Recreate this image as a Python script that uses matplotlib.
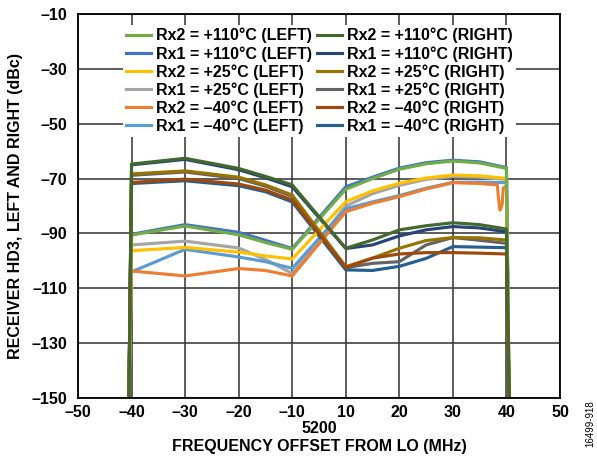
import numpy as np
import matplotlib
matplotlib.use('Agg')
import matplotlib.pyplot as plt

plt.rcParams['font.family'] = ['Liberation Sans', 'DejaVu Sans']
plt.rcParams['font.weight'] = 'bold'
plt.rcParams['axes.labelweight'] = 'bold'
plt.rcParams['font.size'] = 11.5

# frequency offset from LO (MHz) -- common points of the curves
offset = [-40.5, -40, -30, -20, -15, -10, 10, 15, 20, 25, 30, 35, 40, 40.5]

# LEFT sideband curves (dBc)
rx2_110_left = [-150, -90.6, -87.3, -90.5, -93.3, -95.8, -73.9, -70.0, -66.6, -64.6, -63.6, -64.3, -66.3, -150]
rx1_110_left = [-150, -90.3, -86.8, -89.6, -92.5, -95.5, -73.0, -69.5, -66.2, -64.2, -63.3, -63.9, -66.0, -150]
rx2_25_left = [-150, -96.3, -95.1, -96.8, -98.2, -99.3, -78.4, -74.5, -71.7, -69.8, -68.7, -69.0, -69.9, -150]
rx1_25_left = [-150, -94.2, -92.8, -95.3, -99.5, -104.6, -80.0, -75.5, -72.5, -70.3, -69.2, -69.5, -70.3, -150]
rx1_m40_left = [-150, -104.0, -95.8, -98.6, -100.3, -102.7, -81.0, -78.5, -76.2, -73.5, -71.4, -71.3, -71.5, -150]
# Rx2 -40C LEFT has a small loop near +40 MHz, so it has its own offsets
offset_rx2_m40_left = [-40.5, -40, -30, -20, -15, -10, 10, 15, 20, 25, 30, 35, 38.3,
                       38.5, 38.8, 39.2, 39.4, 40, 40.5]
rx2_m40_left = [-150, -103.7, -105.5, -102.8, -103.5, -105.5, -82.1, -79.0, -76.6, -73.8, -71.5, -71.8, -72.3,
                -77.0, -81.5, -79.5, -73.5, -72.5, -150]

# RIGHT sideband curves (dBc)
rx2_110_right = [-150, -64.7, -62.6, -66.3, -69.2, -72.3, -95.4, -92.4, -88.7, -87.2, -86.1, -86.8, -88.4, -150]
rx1_110_right = [-150, -65.0, -63.0, -66.8, -69.7, -73.0, -95.5, -94.2, -90.9, -88.7, -87.5, -88.0, -89.4, -150]
rx2_25_right = [-150, -68.3, -67.2, -69.5, -72.3, -76.0, -102.1, -99.0, -95.4, -92.6, -91.5, -91.6, -92.4, -150]
rx1_25_right = [-150, -68.8, -67.6, -70.0, -72.8, -76.5, -102.5, -100.9, -100.3, -94.2, -91.5, -92.5, -93.6, -150]
rx2_m40_right = [-150, -71.4, -70.2, -72.0, -74.2, -77.8, -102.5, -99.0, -97.5, -97.0, -97.0, -97.2, -97.5, -150]
rx1_m40_right = [-150, -71.8, -70.8, -72.6, -74.8, -78.5, -103.3, -103.5, -102.0, -99.1, -94.8, -95.0, -95.2, -150]

xticks = [-50, -40, -30, -20, -10, 10, 20, 30, 40, 50]
yticks = [-150, -130, -110, -90, -70, -50, -30, -10]
lo_label = '5200'


def fwd(x):
    # -10 and +10 MHz sit one grid step apart (LO at 5200 in between)
    x = np.asarray(x, dtype=float)
    return np.where(x <= -10, x + 50, np.where(x >= 10, x + 40, 45 + x / 2))


def inv(p):
    p = np.asarray(p, dtype=float)
    return np.where(p <= 40, p - 50, np.where(p >= 50, p - 40, (p - 45) * 2))


fig = plt.figure(figsize=(5.97, 4.58), dpi=100)
ax = fig.add_axes([78 / 597, 1 - 398 / 458, (560 - 78) / 597, (398 - 14) / 458])
ax.set_xscale('function', functions=(fwd, inv))

lw = 2.25
# Rx1 first, Rx2 on top
series = [
    ('Rx1 = +110°C (LEFT)', offset, rx1_110_left, '#4472C4'),
    ('Rx1 = +25°C (LEFT)', offset, rx1_25_left, '#A5A5A5'),
    ('Rx1 = \u201340°C (LEFT)', offset, rx1_m40_left, '#5B9BD5'),
    ('Rx1 = +110°C (RIGHT)', offset, rx1_110_right, '#264478'),
    ('Rx1 = +25°C (RIGHT)', offset, rx1_25_right, '#636363'),
    ('Rx1 = \u201340°C (RIGHT)', offset, rx1_m40_right, '#255E91'),
    ('Rx2 = +25°C (LEFT)', offset, rx2_25_left, '#FFC000'),
    ('Rx2 = \u201340°C (LEFT)', offset_rx2_m40_left, rx2_m40_left, '#ED7D31'),
    ('Rx2 = +110°C (LEFT)', offset, rx2_110_left, '#70AD47'),
    ('Rx2 = +25°C (RIGHT)', offset, rx2_25_right, '#997300'),
    ('Rx2 = \u201340°C (RIGHT)', offset, rx2_m40_right, '#9E480E'),
    ('Rx2 = +110°C (RIGHT)', offset, rx2_110_right, '#43682B'),
]
lines = {}
for name, xs, ys, col in series:
    lines[name], = ax.plot(xs, ys, color=col, lw=lw, solid_joinstyle='round', label=name)

order = ['Rx2 = +110°C (LEFT)', 'Rx1 = +110°C (LEFT)', 'Rx2 = +25°C (LEFT)', 'Rx1 = +25°C (LEFT)',
         'Rx2 = \u201340°C (LEFT)', 'Rx1 = \u201340°C (LEFT)',
         'Rx2 = +110°C (RIGHT)', 'Rx1 = +110°C (RIGHT)', 'Rx2 = +25°C (RIGHT)', 'Rx1 = +25°C (RIGHT)',
         'Rx2 = \u201340°C (RIGHT)', 'Rx1 = \u201340°C (RIGHT)']
leg = ax.legend([lines[n] for n in order], order, ncol=2, loc='upper left',
                bbox_to_anchor=(0.077, 0.993), borderpad=0.2, handlelength=1.55,
                handletextpad=0.3, columnspacing=0.35, labelspacing=0.16,
                frameon=True, fancybox=False, facecolor='white', edgecolor='none', framealpha=1)
leg.set_zorder(5)

ax.set_xlim(-50, 50)
ax.set_ylim(-150, -10)
ax.set_xticks(xticks, [str(t).replace('-', '\u2013') for t in xticks])
ax.set_yticks(yticks, [str(t).replace('-', '\u2013') for t in yticks])
ax.tick_params(axis='both', which='both', length=0)
ax.tick_params(axis='y', pad=8)
ax.tick_params(axis='x', pad=5)
ax.grid(True, which='major', color='#303030', lw=1.1)
ax.set_axisbelow(True)
for s in ax.spines.values():
    s.set_linewidth(1.3)

# LO frequency under the gap between -10 and +10
ax.annotate(lo_label, xy=(0, 0), xycoords=('data', 'axes fraction'),
            xytext=(0, -22), textcoords='offset points', ha='center', va='center')

ax.set_xlabel('FREQUENCY OFFSET FROM LO (MHz)', labelpad=14)
ax.set_ylabel('RECEIVER HD3, LEFT AND RIGHT (dBc)', labelpad=6)

fig.text(0.988, 0.075, '16499-918', rotation=90, fontsize=7, fontweight='normal',
         ha='center', va='center')

fig.savefig('out.png', dpi=100)
